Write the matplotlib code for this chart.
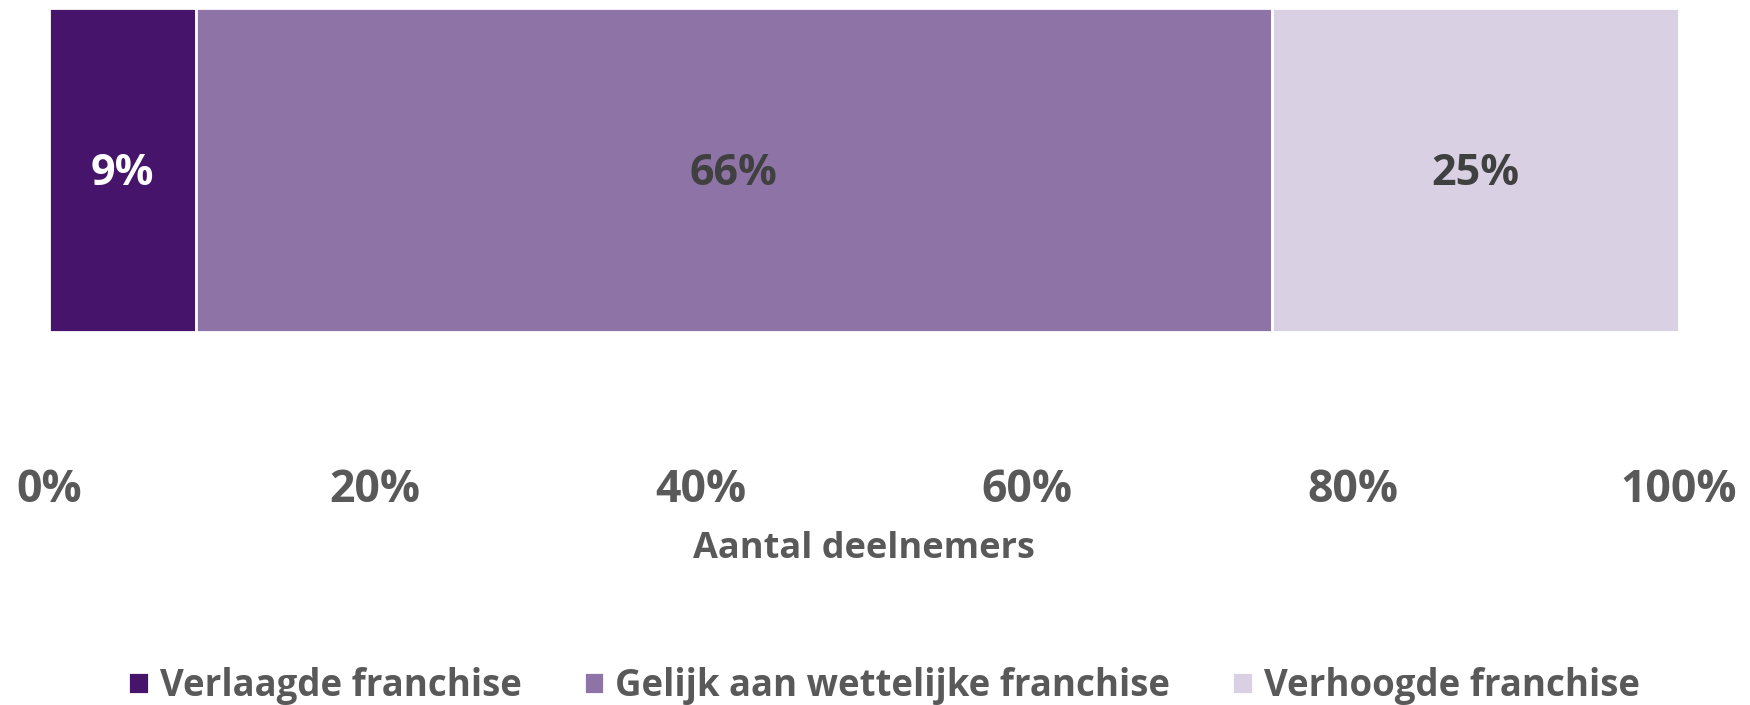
import matplotlib
matplotlib.use("Agg")
import matplotlib.pyplot as plt
from matplotlib.ticker import PercentFormatter

plt.rcParams['font.family'] = ['Open Sans', 'DejaVu Sans']
plt.rcParams['font.weight'] = 'bold'

categories = ["Verlaagde franchise", "Gelijk aan wettelijke franchise", "Verhoogde franchise"]
values = [9, 66, 25]
colors = ["#46146A", "#8E73A6", "#D9D0E3"]
label_colors = ["#FFFFFF", "#404040", "#404040"]
ticks = [0, 20, 40, 60, 80, 100]
xlabel = "Aantal deelnemers"

W, H = 1750, 705
fig = plt.figure(figsize=(W / 100, H / 100), dpi=100)
ax = fig.add_axes([49 / W, 1 - 332 / H, (1679 - 49) / W, (332 - 8) / H])

left = 0
for cat, v, c, lc in zip(categories, values, colors, label_colors):
    ax.barh([0], [v], left=[left], height=1.0, color=c, edgecolor="white", linewidth=2, label=cat)
    ax.text(left + v / 2, -0.01, f"{v}%", ha="center", va="center", fontsize=31, fontweight="bold", color=lc)
    left += v

ax.set_xlim(0, 100)
ax.set_ylim(-0.5, 0.5)
ax.set_yticks([])
ax.set_xticks(ticks)
ax.xaxis.set_major_formatter(PercentFormatter(100, decimals=0))
ax.tick_params(axis="x", length=0, pad=98, labelsize=32, labelcolor="#595959")
for lab in ax.get_xticklabels():
    lab.set_fontweight("bold")
for s in ax.spines.values():
    s.set_visible(False)

ax.set_xlabel(xlabel, fontsize=26, fontweight="bold", color="#595959")
ax.xaxis.set_label_coords(0.5, -(531 - 332) / 324)

fig.legend(loc="center", bbox_to_anchor=(884 / W, 1 - 686 / H), ncol=3, frameon=False,
           handlelength=0.55, handleheight=0.55, handletextpad=0.3,
           columnspacing=1.7, labelcolor="#595959",
           prop={"weight": "bold", "size": 26.4})

fig.savefig("out.png", dpi=100)
